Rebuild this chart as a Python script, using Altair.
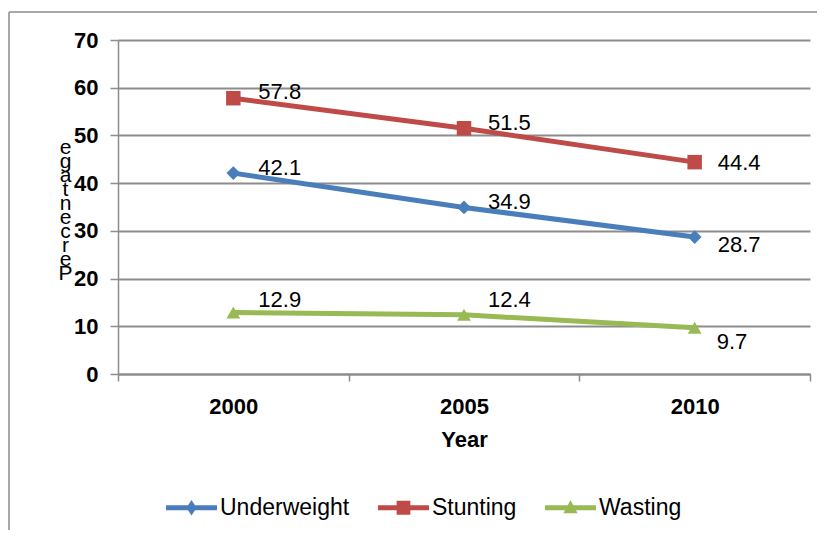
import altair as alt
import pandas as pd

# ---- data ----
years = ["2000", "2005", "2010"]
series = ["Underweight", "Stunting", "Wasting"]
underweight = [42.1, 34.9, 28.7]
stunting = [57.8, 51.5, 44.4]
wasting = [12.9, 12.4, 9.7]
y_ticks = [0, 10, 20, 30, 40, 50, 60, 70]
y_title = "Percentage"
x_title = "Year"

# ---- styles ----
colors = ["#4A7EBB", "#BE4B48", "#98B954"]
markers = ["diamond", "square", "triangle-up"]
marker_sizes = [190, 210, 190]
label_dx = [[25, 24, 23], [25, 24, 23], [25, 24, 22]]
label_dy = [[-5, -5, 8], [-6, -5, 1], [-12, -15, 14]]
FONT = "Liberation Sans"

rows = []
for s, vals in zip(series, [underweight, stunting, wasting]):
    for yr, v in zip(years, vals):
        rows.append({"series": s, "year": yr, "value": v})
df = pd.DataFrame(rows)

color_scale = alt.Scale(domain=series, range=colors)

x_enc = alt.X(
    "year:O",
    scale=alt.Scale(domain=years, paddingInner=0, paddingOuter=0),
    axis=alt.Axis(
        title=x_title,
        labelAngle=0,
        labelFont=FONT,
        labelFontSize=22,
        labelFontWeight="bold",
        labelColor="black",
        labelPadding=15,
        titleFont=FONT,
        titleFontSize=22,
        titleFontWeight="bold",
        titleColor="black",
        titlePadding=12,
        domainColor="#8c8c8c",
        domainWidth=2,
        tickColor="#8c8c8c",
        tickWidth=1.5,
        tickSize=7,
        tickBand="extent",
        grid=False,
    ),
)

y_enc = alt.Y(
    "value:Q",
    scale=alt.Scale(domain=[0, 70], nice=False),
    axis=alt.Axis(
        values=y_ticks,
        title=list(reversed(y_title)),
        titleAngle=0,
        titleAlign="center",
        titleBaseline="top",
        titleX=-53,
        titleY=96,
        titleLineHeight=14,
        titleFont=FONT,
        titleFontSize=21,
        titleFontWeight="normal",
        titleColor="black",
        labelFont=FONT,
        labelFontSize=22,
        labelFontWeight="bold",
        labelColor="black",
        labelPadding=12,
        domainColor="#8c8c8c",
        domainWidth=1.5,
        tickColor="#8c8c8c",
        tickWidth=1.5,
        tickSize=8,
        grid=True,
        gridColor="#8c8c8c",
        gridWidth=2,
    ),
)

base = alt.Chart(df)

# legend layer first (its legend settings win the merge); marks have size 0
line_path = "M-1,-0.1L1,-0.1L1,0.1L-1,0.1Z"
legend_paths = [
    line_path + " M0,-0.3L0.2,0L0,0.3L-0.2,0Z",
    line_path + " M-0.27,-0.27L0.27,-0.27L0.27,0.27L-0.27,0.27Z",
    line_path + " M0,-0.3L0.28,0.22L-0.28,0.22Z",
]
legend_props = dict(
    title=None,
    orient="none",
    legendX=48,
    legendY=442,
    direction="horizontal",
    symbolSize=2600,
    symbolStrokeWidth=0,
    symbolOpacity=1,
    labelFont=FONT,
    labelFontSize=23,
    labelColor="black",
    labelOffset=3,
    columnPadding=28,
    padding=0,
)
legend_layer = base.mark_point(filled=True, opacity=1, size=0).encode(
    x=x_enc,
    y=y_enc,
    color=alt.Color("series:N", scale=color_scale, legend=alt.Legend(**legend_props)),
    shape=alt.Shape(
        "series:N",
        scale=alt.Scale(domain=series, range=legend_paths),
        legend=alt.Legend(**legend_props),
    ),
)

lines = base.mark_line(strokeWidth=5).encode(
    x=x_enc,
    y=y_enc,
    color=alt.Color("series:N", scale=color_scale, legend=None),
    detail="series:N",
)

layers = [legend_layer, lines]

for s, m, sz in zip(series, markers, marker_sizes):
    layers.append(
        base.mark_point(shape=m, filled=True, opacity=1, size=sz)
        .encode(
            x=x_enc,
            y=y_enc,
            color=alt.Color("series:N", scale=color_scale, legend=None),
        )
        .transform_filter(alt.datum.series == s)
    )

for i, s in enumerate(series):
    for j, yr in enumerate(years):
        layers.append(
            base.mark_text(
                align="left",
                baseline="middle",
                dx=label_dx[i][j],
                dy=label_dy[i][j],
                font=FONT,
                fontSize=22,
                color="black",
            )
            .encode(x=x_enc, y=y_enc, text=alt.Text("value:Q", format=".1f"))
            .transform_filter((alt.datum.series == s) & (alt.datum.year == yr))
        )

# outer chart frame
frame_df = pd.DataFrame({"k": [0]})
frame_top = alt.Chart(frame_df).mark_rule(color="#a8a8a8", strokeWidth=2).encode(
    x=alt.value(-109), x2=alt.value(720), y=alt.value(-28)
)
frame_left = alt.Chart(frame_df).mark_rule(color="#a8a8a8", strokeWidth=2).encode(
    x=alt.value(-109), x2=alt.value(-109), y=alt.value(-28), y2=alt.value(600)
)
layers = layers + [frame_top, frame_left]

chart = (
    alt.layer(*layers)
    .properties(
        width=692,
        height=334,
        autosize=alt.AutoSizeParams(type="none"),
        padding={"left": 110, "top": 32, "right": 7, "bottom": 156},
        background="white",
    )
    .configure_view(stroke=None)
)

chart.save("out.html", embed_options={"renderer": "svg", "actions": False})
